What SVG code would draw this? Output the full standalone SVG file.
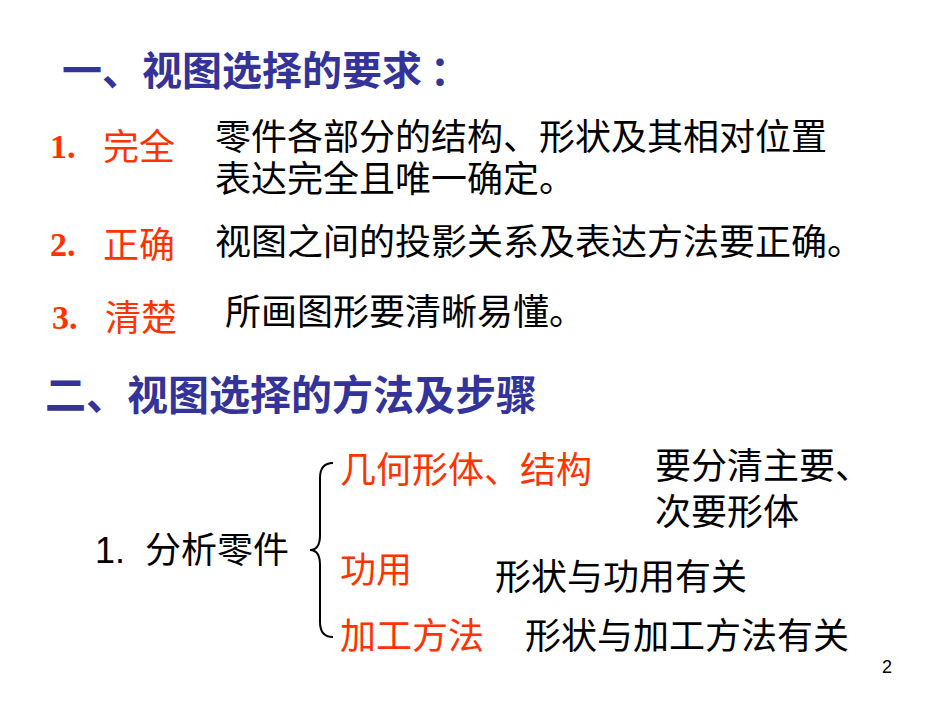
<svg xmlns="http://www.w3.org/2000/svg" width="950" height="713" viewBox="0 0 950 713">
<style>
text{font-family:"Liberation Sans","Noto Sans CJK SC",sans-serif}
.h{fill:#333399;font-weight:bold;font-size:40px}
.r{fill:#ff3300;font-size:36px}
.b{fill:#000;font-size:36px}
.n{font-weight:bold;font-size:34px;font-family:"Liberation Serif",serif}
</style>
<rect width="950" height="713" fill="#fff"/>
<g id="title1"><text class="h" x="62" y="85">一、视图选择的要求<tspan dx="8">：</tspan></text></g>
<g id="item1"><text class="r n" x="50" y="158">1.</text><text class="r" x="103" y="160">完全</text>
<text class="b" x="215" y="150">零件各部分的结构、形状及其相对位置</text>
<text class="b" x="215" y="192">表达完全且唯一确定。</text></g>
<g id="item2"><text class="r n" x="50" y="256">2.</text><text class="r" x="103" y="258">正确</text>
<text class="b" x="215" y="255">视图之间的投影关系及表达方法要正确。</text></g>
<g id="item3"><text class="r n" x="52" y="329">3.</text><text class="r" x="105" y="331">清楚</text>
<text class="b" x="225" y="325">所画图形要清晰易懂。</text></g>
<g id="title2"><text class="h" x="45" y="410" style="font-size:41px">二、视图选择的方法及步骤</text></g>
<g id="analyze"><text class="b" x="95" y="563" font-size="32">1.</text><text class="b" x="145" y="563">分析零件</text></g>
<g id="connectors"><path d="M333,463 Q320,463 320,478 L320,535 Q320,550 310,550 Q320,550 320,565 L320,622 Q320,637 333,637" fill="none" stroke="#000" stroke-width="2"/></g>
<g id="geo"><text class="r" x="340" y="483">几何形体、结构</text>
<text class="b" x="655" y="479">要分清主要、</text>
<text class="b" x="655" y="525">次要形体</text></g>
<g id="use"><text class="r" x="340" y="583">功用</text>
<text class="b" x="495" y="590">形状与功用有关</text></g>
<g id="proc"><text class="r" x="340" y="649">加工方法</text>
<text class="b" x="525" y="649">形状与加工方法有关</text></g>
<text x="882" y="673" font-size="18" fill="#000">2</text>
</svg>
